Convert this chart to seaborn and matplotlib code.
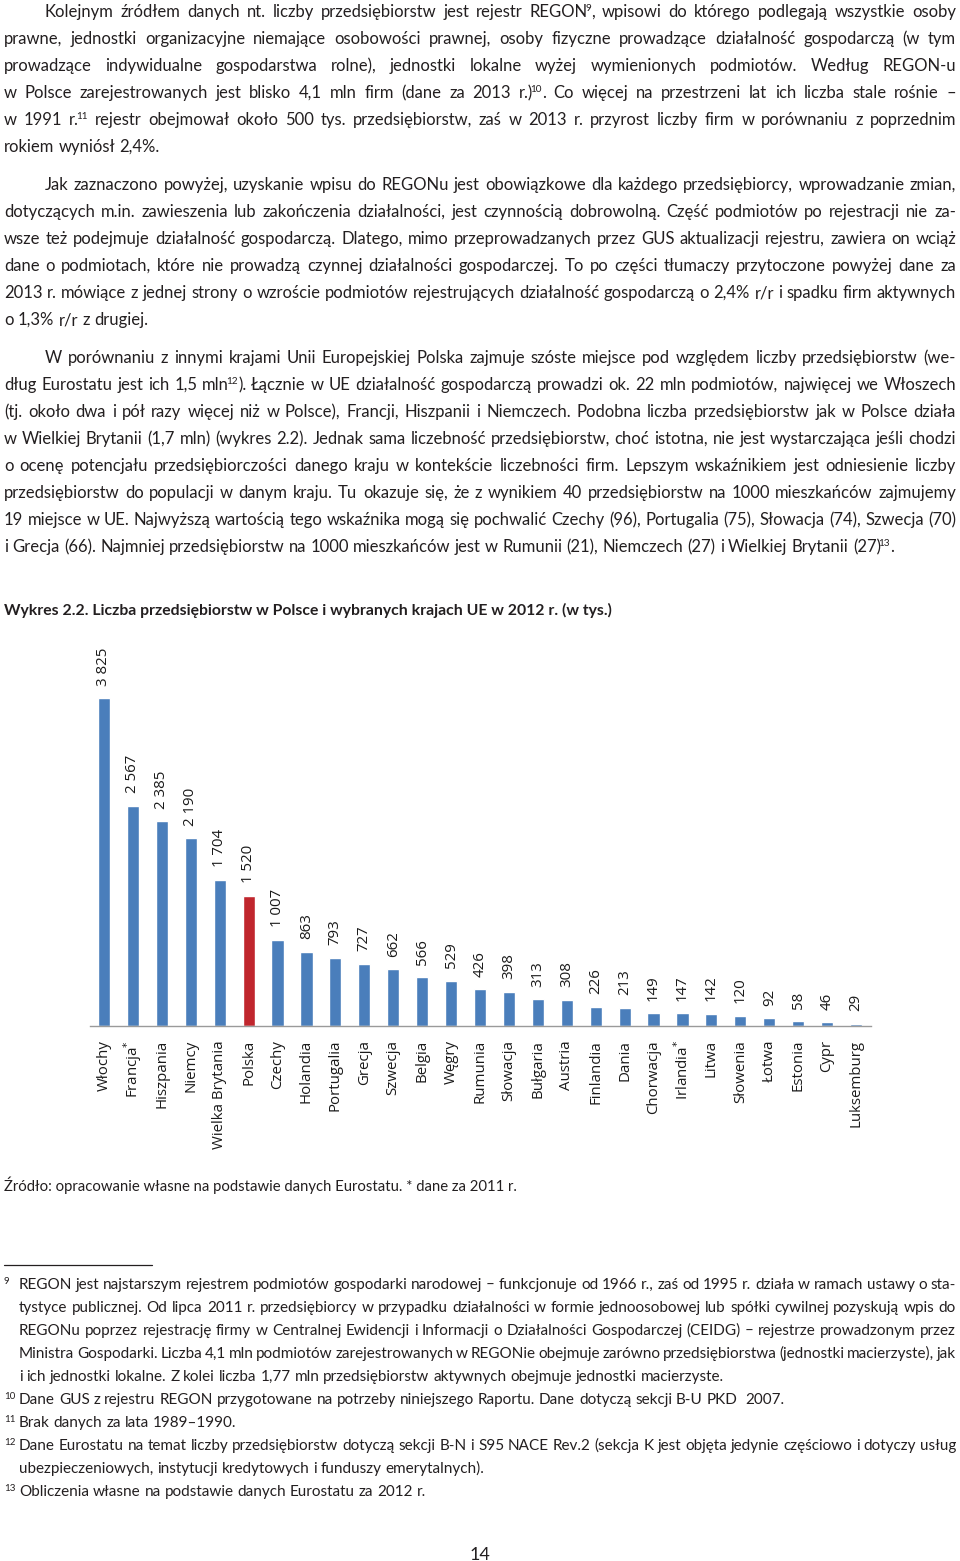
import matplotlib
matplotlib.use("Agg")
import matplotlib.pyplot as plt
import seaborn as sns
import pandas as pd

# ---------------- data ----------------
countries = ["Włochy", "Francja", "Hiszpania", "Niemcy", "Wielka Brytania", "Polska",
             "Czechy", "Holandia", "Portugalia", "Grecja", "Szwecja", "Belgia", "Węgry",
             "Rumunia", "Słowacja", "Bułgaria", "Austria", "Finlandia", "Dania",
             "Chorwacja", "Irlandia", "Litwa", "Słowenia", "Łotwa", "Estonia", "Cypr",
             "Luksemburg"]
values = [3825, 2567, 2385, 2190, 1704, 1520, 1007, 863, 793, 727, 662, 566, 529,
          426, 398, 313, 308, 226, 213, 149, 147, 142, 120, 92, 58, 46, 29]
starred = ["Francja", "Irlandia"]
highlight = "Polska"

title = "Wykres 2.2. Liczba przedsiębiorstw w Polsce i wybranych krajach UE w 2012 r. (w tys.)"
source = "Źródło: opracowanie własne na podstawie danych Eurostatu. * dane za 2011 r."
page_no = "14"

para1 = [
    "Kolejnym źródłem danych nt. liczby przedsiębiorstw jest rejestr REGON⁹, wpisowi do którego podlegają wszystkie osoby",
    "prawne, jednostki organizacyjne niemające osobowości prawnej, osoby fizyczne prowadzące działalność gospodarczą (w tym",
    "prowadzące indywidualne gospodarstwa rolne), jednostki lokalne wyżej wymienionych podmiotów. Według REGON-u",
    "w Polsce zarejestrowanych jest blisko 4,1 mln firm (dane za 2013 r.)¹⁰. Co więcej na przestrzeni lat ich liczba stale rośnie –",
    "w 1991 r.¹¹ rejestr obejmował około 500 tys. przedsiębiorstw, zaś w 2013 r. przyrost liczby firm w porównaniu z poprzednim",
    "rokiem wyniósł 2,4%.",
]
para2 = [
    "Jak zaznaczono powyżej, uzyskanie wpisu do REGONu jest obowiązkowe dla każdego przedsiębiorcy, wprowadzanie zmian,",
    "dotyczących m.in. zawieszenia lub zakończenia działalności, jest czynnością dobrowolną. Część podmiotów po rejestracji nie za-",
    "wsze też podejmuje działalność gospodarczą. Dlatego, mimo przeprowadzanych przez GUS aktualizacji rejestru, zawiera on wciąż",
    "dane o podmiotach, które nie prowadzą czynnej działalności gospodarczej. To po części tłumaczy przytoczone powyżej dane za",
    "2013 r. mówiące z jednej strony o wzroście podmiotów rejestrujących działalność gospodarczą o 2,4% r/r i spadku firm aktywnych",
    "o 1,3% r/r z drugiej.",
]
para3 = [
    "W porównaniu z innymi krajami Unii Europejskiej Polska zajmuje szóste miejsce pod względem liczby przedsiębiorstw (we-",
    "dług Eurostatu jest ich 1,5 mln¹²). Łącznie w UE działalność gospodarczą prowadzi ok. 22 mln podmiotów, najwięcej we Włoszech",
    "(tj. około dwa i pół razy więcej niż w Polsce), Francji, Hiszpanii i Niemczech. Podobna liczba przedsiębiorstw jak w Polsce działa",
    "w Wielkiej Brytanii (1,7 mln) (wykres 2.2). Jednak sama liczebność przedsiębiorstw, choć istotna, nie jest wystarczająca jeśli chodzi",
    "o ocenę potencjału przedsiębiorczości danego kraju w kontekście liczebności firm. Lepszym wskaźnikiem jest odniesienie liczby",
    "przedsiębiorstw do populacji w danym kraju. Tu okazuje się, że z wynikiem 40 przedsiębiorstw na 1000 mieszkańców zajmujemy",
    "19 miejsce w UE. Najwyższą wartością tego wskaźnika mogą się pochwalić Czechy (96), Portugalia (75), Słowacja (74), Szwecja (70)",
    "i Grecja (66). Najmniej przedsiębiorstw na 1000 mieszkańców jest w Rumunii (21), Niemczech (27) i Wielkiej Brytanii (27)¹³.",
]
footnotes = [
    ("9", [
        "REGON jest najstarszym rejestrem podmiotów gospodarki narodowej – funkcjonuje od 1966 r., zaś od 1995 r. działa w ramach ustawy o sta-",
        "tystyce publicznej. Od lipca 2011 r. przedsiębiorcy w przypadku działalności w formie jednoosobowej lub spółki cywilnej pozyskują wpis do",
        "REGONu poprzez rejestrację firmy w Centralnej Ewidencji i Informacji o Działalności Gospodarczej (CEIDG) – rejestrze prowadzonym przez",
        "Ministra Gospodarki. Liczba 4,1 mln podmiotów zarejestrowanych w REGONie obejmuje zarówno przedsiębiorstwa (jednostki macierzyste), jak",
        "i ich jednostki lokalne. Z kolei liczba 1,77 mln przedsiębiorstw aktywnych obejmuje jednostki macierzyste.",
    ]),
    ("10", ["Dane GUS z rejestru REGON przygotowane na potrzeby niniejszego Raportu. Dane dotyczą sekcji B-U PKD  2007."]),
    ("11", ["Brak danych za lata 1989–1990."]),
    ("12", [
        "Dane Eurostatu na temat liczby przedsiębiorstw dotyczą sekcji B-N i S95 NACE Rev.2 (sekcja K jest objęta jedynie częściowo i dotyczy usług",
        "ubezpieczeniowych, instytucji kredytowych i funduszy emerytalnych).",
    ]),
    ("13", ["Obliczenia własne na podstawie danych Eurostatu za 2012 r."]),
]

# ---------------- styling ----------------
sns.set_theme(style="white")
plt.rcParams["font.family"] = ["Lato", "Open Sans", "DejaVu Sans"]
TXT = "#231f20"
BODY = ["Lato", "Open Sans", "DejaVu Sans"]
CHART = ["Open Sans", "DejaVu Sans"]
BLUE = "#4a7ebb"
RED = "#c0262d"
SUP = {"⁰": "0", "¹": "1", "²": "2", "³": "3", "⁴": "4", "⁵": "5", "⁶": "6",
       "⁷": "7", "⁸": "8", "⁹": "9"}

W, H = 960, 1561
fig = plt.figure(figsize=(W / 100, H / 100), dpi=100)
fig.patch.set_facecolor("white")
renderer = fig.canvas.get_renderer()

pg = fig.add_axes([0, 0, 1, 1])
pg.set_xlim(0, W)
pg.set_ylim(H, 0)
pg.axis("off")


def measure(s, size, weight="normal", family=BODY):
    if not s:
        return 0.0
    t = pg.text(0, 0, s, fontsize=size, fontweight=weight, family=family)
    w = t.get_window_extent(renderer).width
    t.remove()
    return w


def segments(word):
    segs = []
    for ch in word:
        sup = ch in SUP
        c = SUP.get(ch, ch)
        if segs and segs[-1][1] == sup:
            segs[-1][0] += c
        else:
            segs.append([c, sup])
    return segs


SUP_SHIFT = -2.5


def word_width(word, size, weight="normal"):
    return sum(measure(s, size * (0.6 if sup else 1.0), weight) + (SUP_SHIFT if sup else 0)
               for s, sup in segments(word))


def draw_word(x, y, word, size, weight="normal"):
    for s, sup in segments(word):
        sz = size * (0.6 if sup else 1.0)
        if sup:
            x += SUP_SHIFT
        pg.text(x, y - (size * 0.5 if sup else 0), s, fontsize=sz, fontweight=weight,
                family=BODY, color=TXT, ha="left", va="baseline")
        x += measure(s, sz, weight)


def block_size(specs, base, min_gap_em=0.16):
    size = base
    for text, x0, x1, y, just in specs:
        if not just:
            continue
        words = text.split(" ")
        ws = sum(word_width(w, 10) for w in words) / 10.0
        gaps = len(words) - 1
        s_fit = (x1 - x0) / (ws + gaps * min_gap_em * 100 / 72)
        size = min(size, s_fit)
    return size


def draw_block(specs, size, weight="normal"):
    space = measure("a a", size, weight) - measure("aa", size, weight)
    for text, x0, x1, y, just in specs:
        words = text.split(" ")
        widths = [word_width(w, size, weight) for w in words]
        if just and len(words) > 1:
            gap = (x1 - x0 - sum(widths)) / (len(words) - 1)
        else:
            gap = space
        x = x0
        for w, wd in zip(words, widths):
            if w:
                draw_word(x, y, w, size, weight)
            x += wd + gap


L, R, IND = 4, 956, 45
LH = 27


def para_specs(lines, y0):
    specs = []
    for i, ln in enumerate(lines):
        x0 = IND if i == 0 else L
        specs.append((ln, x0, R, y0 + i * LH, i < len(lines) - 1))
    return specs


body_specs = para_specs(para1, 17) + para_specs(para2, 190) + para_specs(para3, 363)
bsize = block_size(body_specs, 12.0)
draw_block(body_specs, bsize)

pg.text(L, 615, title, fontsize=11.3, fontweight="bold", family=BODY, color=TXT,
        ha="left", va="baseline")
pg.text(L, 1191, source, fontsize=10.7, family=BODY, color=TXT, ha="left", va="baseline")

pg.plot([4, 152], [1265, 1265], color=TXT, lw=0.9)

fn_specs = []
fn_marks = []
y = 1289
for num, lines in footnotes:
    fn_marks.append((num, y))
    for i, ln in enumerate(lines):
        fn_specs.append((ln, 19, R, y, i < len(lines) - 1))
        y += 23
fsize = block_size(fn_specs, 11.0)
draw_block(fn_specs, fsize)
for num, yy in fn_marks:
    pg.text(4, yy - 5, num, fontsize=7, family=BODY, color=TXT, ha="left", va="baseline")

pg.text(480, 1560, page_no, fontsize=13, family=BODY, color=TXT, ha="center", va="baseline")

# ---------------- chart ----------------
x_left_px, x_right_px = 89.5, 870.5
base_px, top_px = 1026, 640
ax = fig.add_axes([x_left_px / W, (H - base_px) / H,
                   (x_right_px - x_left_px) / W, (base_px - top_px) / H])
ax.set_facecolor("none")

df = pd.DataFrame({"kraj": countries, "liczba": values})
palette = {c: (RED if c == highlight else BLUE) for c in countries}
sns.barplot(data=df, x="kraj", y="liczba", hue="kraj", palette=palette, width=0.42,
            saturation=1, legend=False, ax=ax)

ax.set_xlim(-0.5, len(countries) - 0.5)
ax.set_ylim(0, 3825 * (base_px - top_px) / 328)
ax.set_xlabel("")
ax.set_ylabel("")
ax.set_yticks([])
for sp in ["top", "right", "left"]:
    ax.spines[sp].set_visible(False)
ax.spines["bottom"].set_color("#9a9a9a")
ax.spines["bottom"].set_linewidth(1.0)

labels = [c + ("$^{*}$" if c in starred else "") for c in countries]
ax.set_xticks(range(len(countries)))
ax.set_xticklabels(labels, rotation=90, fontsize=10.8, family=CHART, color="#1a1a1a",
                   va="top", ha="center")
ax.tick_params(axis="x", which="major", length=0, pad=10)
ax.set_xticks([i - 0.5 for i in range(len(countries) + 1)], minor=True)
ax.tick_params(axis="x", which="minor", length=5, width=0.9, color="#9a9a9a", direction="out")

for i, v in enumerate(values):
    ax.annotate(f"{v:,}".replace(",", " "), xy=(i, v), xytext=(0, 9),
                textcoords="offset points", rotation=90, ha="center", va="bottom",
                fontsize=10.8, family=CHART, color="#1a1a1a")

fig.savefig("out.png", dpi=100, facecolor="white")
